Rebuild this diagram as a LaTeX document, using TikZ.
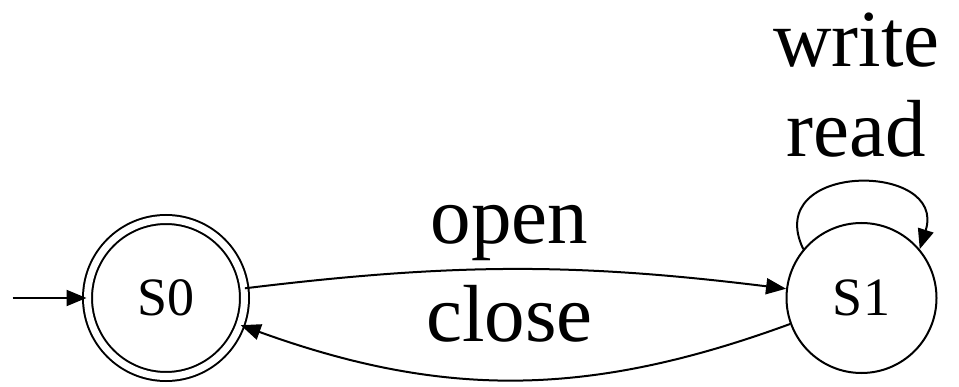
\documentclass[tikz,border=0pt]{standalone}
\usepackage{fontspec}
\setmainfont{Liberation Serif}
\usetikzlibrary{arrows.meta, positioning}

\begin{document}
\begin{tikzpicture}[
    x=1pt, y=1pt,
    state/.style={circle, draw, line width=2pt, minimum size=150pt, inner sep=0pt, font=\fontsize{54}{60}\selectfont},
    accepting/.style={double, double distance=7pt, minimum size=157pt},
    arrow/.style={-{Triangle[length=20pt, width=16pt]}, line width=2pt},
    lbl/.style={inner sep=0pt, font=\fontsize{81}{90}\selectfont, align=center}
]
    \useasboundingbox (0,0) rectangle (959,386);

    \node[state, accepting] (s0) at (166,88) {S0};
    \node[state, right=540pt of s0] (s1) {S1};
    \coordinate[left=74pt of s0] (start);

    \draw[arrow] (start) -- (s0);
    \draw[arrow] (s0) to[bend left=7] node[lbl, above=7pt, xshift=-6pt] {open} (s1);
    \draw[arrow] (s1) to[bend left=20] node[lbl, above=36pt, xshift=-6pt] {close} (s0);
    \draw[arrow] (s1.140) .. controls +(-42,88) and +(28,88) .. node[lbl, above=25pt] {write\\read} (s1.40);
\end{tikzpicture}
\end{document}
